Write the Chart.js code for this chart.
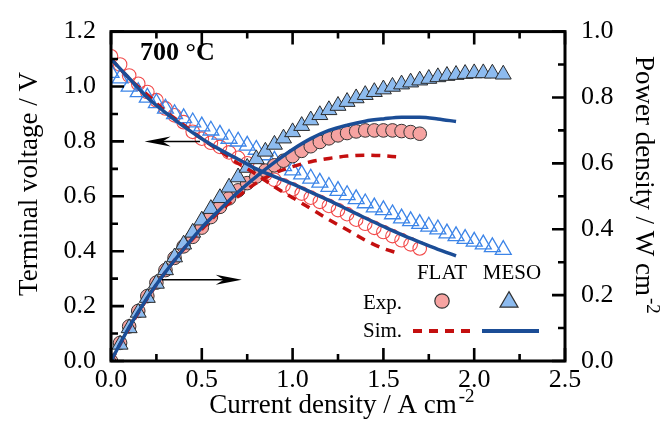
<!DOCTYPE html>
<html>
<head>
<meta charset="utf-8">
<script src="https://cdn.jsdelivr.net/npm/chart.js@4.4.0/dist/chart.umd.min.js"></script>
<style>
  html, body { margin: 0; padding: 0; background: #fff; }
  #wrap { width: 663px; height: 439px; position: relative; }
</style>
</head>
<body>
<div id="wrap"><canvas id="fcChart"></canvas></div>
<script>
// axis ticks
const xTicks = [0, 0.5, 1.0, 1.5, 2.0, 2.5];
const xMinor = [0.25, 0.75, 1.25, 1.75, 2.25];
const vTicks = [0, 0.2, 0.4, 0.6, 0.8, 1.0, 1.2];
const vMinor = [0.1, 0.3, 0.5, 0.7, 0.9, 1.1];
const pTicks = [0, 0.2, 0.4, 0.6, 0.8, 1.0];
const pMinor = [0.1, 0.3, 0.5, 0.7, 0.9];

// FLAT, experiment
const flatExpX = [0.00,0.05,0.10,0.15,0.20,0.25,0.30,0.35,0.40,0.45,0.50,0.55,0.60,0.65,0.70,0.75,0.80,0.85,0.90,0.95,
                  1.00,1.05,1.10,1.15,1.20,1.25,1.30,1.35,1.40,1.45,1.50,1.55,1.60,1.65,1.70];
const flatExpV = [1.11,1.08,1.04,1.01,0.98,0.95,0.92,0.895,0.87,0.835,0.81,0.795,0.78,0.76,0.74,0.72,0.70,0.68,0.66,0.64,
                  0.625,0.61,0.595,0.58,0.565,0.55,0.535,0.515,0.50,0.485,0.47,0.455,0.44,0.425,0.41];
const flatExpP = [0,0.055,0.105,0.152,0.197,0.238,0.276,0.313,0.348,0.377,0.405,0.437,0.468,0.494,0.518,0.54,0.56,0.578,0.594,0.608,
                  0.622,0.638,0.652,0.665,0.676,0.685,0.692,0.697,0.70,0.70,0.70,0.70,0.698,0.695,0.69];

// MESO, experiment
const mesoExpX = [0.00,0.05,0.10,0.15,0.20,0.25,0.30,0.35,0.40,0.45,0.50,0.55,0.60,0.65,0.70,0.75,0.80,0.85,0.90,0.95,
                  1.00,1.05,1.10,1.15,1.20,1.25,1.30,1.35,1.40,1.45,1.50,1.55,1.60,1.65,1.70,1.75,1.80,1.85,1.90,1.95,
                  2.00,2.05,2.10,2.16];
const mesoExpV = [1.05,1.03,1.00,0.98,0.96,0.94,0.92,0.90,0.885,0.87,0.855,0.84,0.825,0.81,0.80,0.785,0.77,0.75,0.73,0.71,
                  0.695,0.68,0.665,0.65,0.635,0.62,0.605,0.59,0.575,0.56,0.55,0.535,0.52,0.51,0.50,0.49,0.48,0.465,0.455,0.445,
                  0.435,0.425,0.415,0.405];
const mesoExpP = [0,0.05,0.10,0.147,0.192,0.235,0.276,0.315,0.354,0.39,0.427,0.462,0.495,0.527,0.558,0.587,0.613,0.636,0.657,0.676,
                  0.695,0.714,0.731,0.747,0.762,0.775,0.787,0.798,0.808,0.817,0.825,0.833,0.84,0.846,0.852,0.857,0.862,0.866,0.869,0.872,
                  0.874,0.874,0.873,0.870];

// simulations
const simFlatX = [0,0.1,0.2,0.3,0.4,0.5,0.6,0.7,0.8,0.9,1.0,1.1,1.2,1.3,1.4,1.5,1.57];
const simFlatV = [1.10,1.03,0.97,0.91,0.86,0.81,0.765,0.72,0.68,0.635,0.595,0.555,0.515,0.478,0.44,0.41,0.395];
const simFlatP = [0,0.10,0.19,0.27,0.34,0.40,0.455,0.50,0.54,0.57,0.59,0.605,0.615,0.622,0.625,0.623,0.62];
const simMesoX = [0,0.1,0.2,0.3,0.4,0.5,0.6,0.7,0.8,0.9,1.0,1.1,1.2,1.3,1.4,1.5,1.6,1.7,1.8,1.9];
const simMesoV = [1.10,1.03,0.96,0.905,0.855,0.81,0.77,0.735,0.70,0.672,0.645,0.615,0.585,0.553,0.521,0.49,0.46,0.433,0.407,0.383];
const simMesoP = [0,0.103,0.192,0.27,0.34,0.405,0.46,0.513,0.56,0.603,0.642,0.675,0.70,0.716,0.728,0.735,0.74,0.74,0.735,0.727];

const pts = (xs, ys) => xs.map((x, i) => ({ x: x, y: ys[i] }));

const RED_OPEN = '#f24a4a';
const RED_FILL = '#f6a3a1';
const BLUE_OPEN = '#3d85e8';
const BLUE_FILL = '#8dbbef';
const RED_SIM = '#c40f0f';
const BLUE_SIM = '#1b4d96';
const SERIF = "'Liberation Serif', 'Times New Roman', serif";

function sup(ctx, base, supTxt, x, y, size) {
  ctx.font = size + 'px ' + SERIF;
  ctx.fillText(base, x, y);
  const w = ctx.measureText(base).width;
  ctx.font = Math.round(size * 0.7) + 'px ' + SERIF;
  ctx.fillText(supTxt, x + w + 2, y - size * 0.4);
}

function arrow(ctx, x1, y1, x2, y2) {
  const dir = Math.sign(x2 - x1);
  ctx.beginPath();
  ctx.moveTo(x1, y1);
  ctx.lineTo(x2 - dir * 16, y2);
  ctx.lineWidth = 1.5;
  ctx.stroke();
  ctx.beginPath();
  ctx.moveTo(x2, y2);
  ctx.lineTo(x2 - dir * 26, y2 - 5);
  ctx.lineTo(x2 - dir * 18, y2);
  ctx.lineTo(x2 - dir * 26, y2 + 5);
  ctx.closePath();
  ctx.fill();
}

const decor = {
  id: 'decor',
  afterDatasetsDraw(chart) {
    const ctx = chart.ctx;
    const a = chart.chartArea;
    const xs = chart.scales.x, ys = chart.scales.y, ps = chart.scales.y2;
    ctx.save();
    ctx.strokeStyle = '#000';
    ctx.fillStyle = '#000';
    ctx.lineCap = 'butt';

    // inward ticks
    ctx.lineWidth = 2.6;
    ctx.beginPath();
    xTicks.forEach(v => { const p = xs.getPixelForValue(v);
      ctx.moveTo(p, a.bottom); ctx.lineTo(p, a.bottom - 13);
      ctx.moveTo(p, a.top); ctx.lineTo(p, a.top + 13); });
    xMinor.forEach(v => { const p = xs.getPixelForValue(v);
      ctx.moveTo(p, a.bottom); ctx.lineTo(p, a.bottom - 7);
      ctx.moveTo(p, a.top); ctx.lineTo(p, a.top + 7); });
    vTicks.forEach(v => { const p = ys.getPixelForValue(v);
      ctx.moveTo(a.left, p); ctx.lineTo(a.left + 13, p); });
    vMinor.forEach(v => { const p = ys.getPixelForValue(v);
      ctx.moveTo(a.left, p); ctx.lineTo(a.left + 7, p); });
    pTicks.forEach(v => { const p = ps.getPixelForValue(v);
      ctx.moveTo(a.right, p); ctx.lineTo(a.right - 13, p); });
    pMinor.forEach(v => { const p = ps.getPixelForValue(v);
      ctx.moveTo(a.right, p); ctx.lineTo(a.right - 7, p); });
    ctx.stroke();

    // frame
    ctx.lineWidth = 3;
    ctx.strokeRect(a.left, a.top, a.right - a.left, a.bottom - a.top);

    // axis titles
    ctx.textBaseline = 'alphabetic';
    ctx.textAlign = 'left';
    ctx.font = '27px ' + SERIF;
    const bt = 'Current density / A cm';
    const bw = ctx.measureText(bt).width + 18;
    sup(ctx, bt, '-2', (a.left + a.right) / 2 + 4 - bw / 2, 413, 27);

    ctx.save();
    ctx.translate(37, 184);
    ctx.rotate(-Math.PI / 2);
    ctx.textAlign = 'center';
    ctx.font = '27px ' + SERIF;
    ctx.fillText('Terminal voltage / V', 0, 0);
    ctx.restore();

    ctx.save();
    ctx.translate(636, 56);
    ctx.rotate(Math.PI / 2);
    ctx.textAlign = 'left';
    sup(ctx, 'Power density / W cm', '-2', 0, 0, 27);
    ctx.restore();

    // temperature label
    ctx.font = 'bold 26px ' + SERIF;
    ctx.textAlign = 'left';
    ctx.fillText('700 \u00B0C', 140, 60);

    // arrows
    arrow(ctx, xs.getPixelForValue(0.49), ys.getPixelForValue(0.80),
               xs.getPixelForValue(0.185), ys.getPixelForValue(0.80));
    arrow(ctx, xs.getPixelForValue(0.28), ps.getPixelForValue(0.247),
               xs.getPixelForValue(0.72), ps.getPixelForValue(0.247));

    // legend block
    ctx.font = '21px ' + SERIF;
    ctx.textAlign = 'center';
    ctx.fillText('FLAT', 442, 279);
    ctx.fillText('MESO', 512, 279);
    ctx.textAlign = 'left';
    ctx.fillText('Exp.', 363, 309);
    ctx.fillText('Sim.', 363, 337);

    ctx.beginPath();
    ctx.arc(442, 301, 7.2, 0, Math.PI * 2);
    ctx.fillStyle = RED_FILL; ctx.fill();
    ctx.lineWidth = 1.2; ctx.strokeStyle = '#333'; ctx.stroke();

    const r = 10.4, tx = 509, ty = 302;
    ctx.beginPath();
    ctx.moveTo(tx, ty - r);
    ctx.lineTo(tx + Math.sin(2 * Math.PI / 3) * r, ty - Math.cos(2 * Math.PI / 3) * r);
    ctx.lineTo(tx + Math.sin(4 * Math.PI / 3) * r, ty - Math.cos(4 * Math.PI / 3) * r);
    ctx.closePath();
    ctx.fillStyle = BLUE_FILL; ctx.fill(); ctx.stroke();

    ctx.lineWidth = 4;
    ctx.strokeStyle = RED_SIM;
    ctx.setLineDash([9, 7]);
    ctx.beginPath(); ctx.moveTo(413, 331); ctx.lineTo(474, 331); ctx.stroke();
    ctx.setLineDash([]);
    ctx.strokeStyle = BLUE_SIM;
    ctx.beginPath(); ctx.moveTo(482, 331); ctx.lineTo(539, 331); ctx.stroke();

    ctx.restore();
  }
};

const tickFont = { family: 'Liberation Serif', size: 26 };

new Chart(document.getElementById('fcChart'), {
  type: 'scatter',
  data: {
    datasets: [
      { label: 'FLAT Exp. V', data: pts(flatExpX, flatExpV), yAxisID: 'y', order: 6,
        pointStyle: 'circle', pointRadius: 6.8, backgroundColor: 'rgba(255,255,255,0)',
        borderColor: RED_OPEN, pointBorderWidth: 1.1 },
      { label: 'MESO Exp. V', data: pts(mesoExpX, mesoExpV), yAxisID: 'y', order: 5,
        pointStyle: 'triangle', pointRadius: 9.2, backgroundColor: 'rgba(255,255,255,0)',
        borderColor: BLUE_OPEN, pointBorderWidth: 1.3 },
      { label: 'FLAT Exp. P', data: pts(flatExpX, flatExpP), yAxisID: 'y2', order: 4,
        pointStyle: 'circle', pointRadius: 6.8, backgroundColor: RED_FILL,
        borderColor: '#333', pointBorderWidth: 1 },
      { label: 'MESO Exp. P', data: pts(mesoExpX, mesoExpP), yAxisID: 'y2', order: 3,
        pointStyle: 'triangle', pointRadius: 9.2, backgroundColor: BLUE_FILL,
        borderColor: '#2a2a2a', pointBorderWidth: 1 },
      { label: 'FLAT Sim. V', data: pts(simFlatX, simFlatV), yAxisID: 'y', order: 2,
        showLine: true, pointRadius: 0, borderColor: RED_SIM, borderWidth: 3.5, borderDash: [9, 7],
        tension: 0.4, cubicInterpolationMode: 'monotone' },
      { label: 'FLAT Sim. P', data: pts(simFlatX, simFlatP), yAxisID: 'y2', order: 2,
        showLine: true, pointRadius: 0, borderColor: RED_SIM, borderWidth: 3.5, borderDash: [9, 7],
        tension: 0.4, cubicInterpolationMode: 'monotone' },
      { label: 'MESO Sim. V', data: pts(simMesoX, simMesoV), yAxisID: 'y', order: 1,
        showLine: true, pointRadius: 0, borderColor: BLUE_SIM, borderWidth: 3.5,
        tension: 0.4, cubicInterpolationMode: 'monotone' },
      { label: 'MESO Sim. P', data: pts(simMesoX, simMesoP), yAxisID: 'y2', order: 1,
        showLine: true, pointRadius: 0, borderColor: BLUE_SIM, borderWidth: 3.5,
        tension: 0.4, cubicInterpolationMode: 'monotone' }
    ]
  },
  options: {
    responsive: true,
    maintainAspectRatio: false,
    animation: false,
    clip: 0,
    layout: { padding: { top: 20, left: 0, right: 0, bottom: 0 } },
    plugins: { legend: { display: false }, tooltip: { enabled: false } },
    scales: {
      x: {
        type: 'linear', position: 'bottom', min: 0, max: 2.5,
        grid: { display: false, drawTicks: false }, border: { display: false },
        afterBuildTicks: s => { s.ticks = xTicks.map(v => ({ value: v })); },
        afterFit: s => { s.height = 78; },
        ticks: { font: tickFont, color: '#000', padding: 4, maxRotation: 0, autoSkip: false,
                 callback: v => v.toFixed(1) }
      },
      y: {
        type: 'linear', position: 'left', min: 0, max: 1.2,
        grid: { display: false, drawTicks: false }, border: { display: false },
        afterBuildTicks: s => { s.ticks = vTicks.map(v => ({ value: v })); },
        afterFit: s => { s.width = 111; },
        ticks: { font: tickFont, color: '#000', padding: 15, autoSkip: false,
                 callback: v => v.toFixed(1) }
      },
      y2: {
        type: 'linear', position: 'right', min: 0, max: 1.0,
        grid: { display: false, drawTicks: false }, border: { display: false },
        afterBuildTicks: s => { s.ticks = pTicks.map(v => ({ value: v })); },
        afterFit: s => { s.width = 98; },
        ticks: { font: tickFont, color: '#000', padding: 16, autoSkip: false,
                 callback: v => v.toFixed(1) }
      }
    }
  },
  plugins: [decor]
});
</script>
</body>
</html>
